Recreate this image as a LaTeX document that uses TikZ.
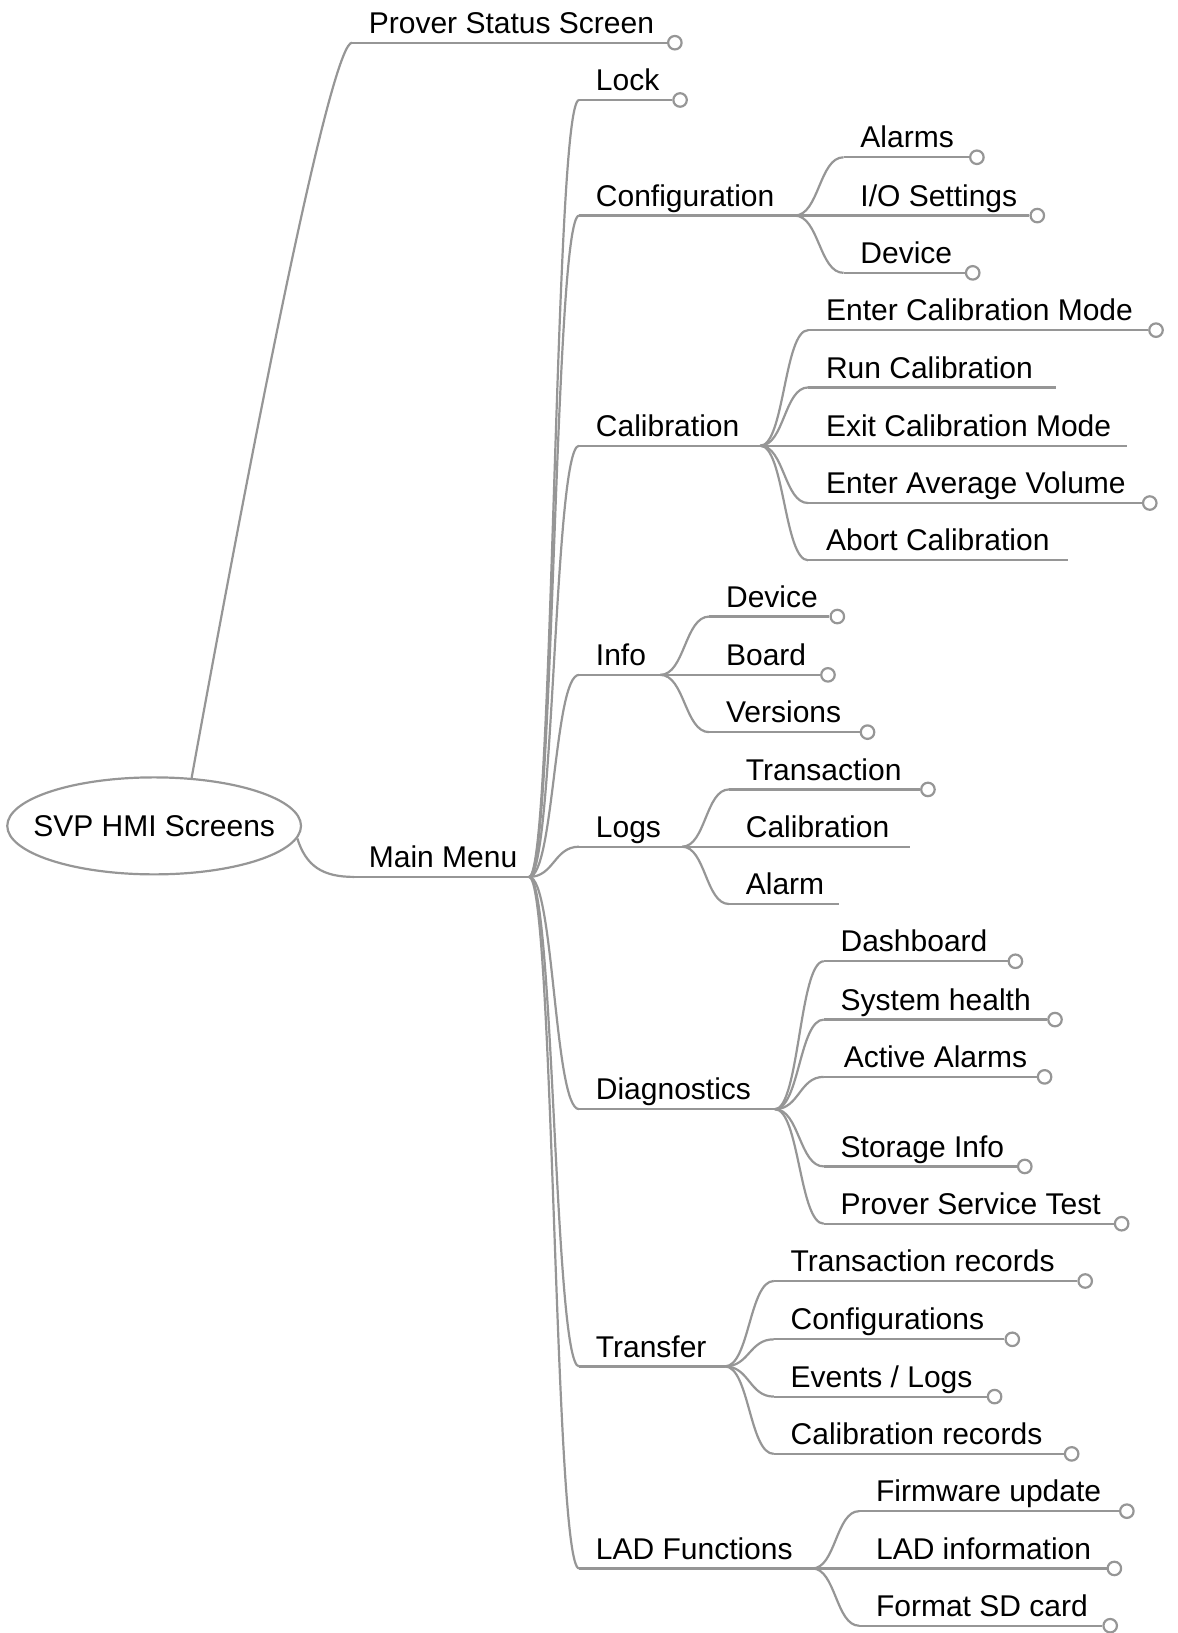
\documentclass[tikz,border=0pt]{standalone}
\usepackage{fontspec}
\setmainfont{Liberation Sans}
\usetikzlibrary{shapes.geometric,calc}
\definecolor{lc}{RGB}{150,150,150}
% #1 name, #2 parent coordinate, #3 start x, #4 y, #5 text x, #6 label
\newcommand\mmitem[6]{%
  \coordinate (#1-s) at (#3,#4);
  \node[lbl] (#1) at (#5,#4-9) {#6};
  \draw[ln] let \p1=(#2), \p2=(#1-s) in (#2) .. controls ({0.5*\x1+0.5*\x2},\y1) and ({0.5*\x1+0.5*\x2},\y2) .. (#1-s);
}
% plain end of underline: #1 name, #2 x, #3 y
\newcommand\mmend[3]{%
  \coordinate (#1-e) at (#2,#3);
  \draw[ln] (#1-s) -- (#1-e);
}
% underline ending in a circle: #1 name, #2 circle centre x, #3 y
\newcommand\mmdot[3]{%
  \node[dot] (#1-c) at (#2,#3) {};
  \draw[ln] (#1-s) -- (#1-c.west);
}
\begin{document}
\begin{tikzpicture}[x=1.0416pt,y=-1.0416pt,
  ln/.style={draw=lc,line width=2.2pt},
  lbl/.style={anchor=base west,inner sep=0pt,font=\fontsize{30}{34}\selectfont},
  dot/.style={circle,draw=lc,line width=2.2pt,fill=white,inner sep=0pt,minimum size=13.5pt},
  rootnode/.style={ellipse,draw=lc,line width=2.2pt,inner xsep=-17pt,inner ysep=0pt,minimum height=97pt,font=\fontsize{30}{34}\selectfont}]
\useasboundingbox (0,0) rectangle (1131,1568);

% root
\node[rootnode] (root) at (148,793) {SVP HMI Screens};

% Prover Status Screen
\coordinate (ps-s) at (338,41);
\node[lbl] (ps) at (354,32) {Prover Status Screen};
\draw[ln] (root.52) .. controls (257,345) and (320,41) .. (ps-s);
\mmdot{ps}{648}{41}

% Main Menu
\coordinate (mm-s) at (340,842);
\coordinate (mm-e) at (508,842);
\node[lbl] (mm) at (354,833) {Main Menu};
\draw[ln] (root.-5) .. controls (294,832) and (310,842) .. (mm-s);
\draw[ln] (mm-s) -- (mm-e);

% level 1
\mmitem{lock}{mm-e}{556}{96}{572}{Lock}
\mmdot{lock}{653}{96}
\mmitem{conf}{mm-e}{556}{207}{572}{Configuration}
\mmend{conf}{763}{207}
\mmitem{cal}{mm-e}{556}{428}{572}{Calibration}
\mmend{cal}{730}{428}
\mmitem{info}{mm-e}{556}{648}{572}{Info}
\mmend{info}{634}{648}
\mmitem{logs}{mm-e}{556}{813}{572}{Logs}
\mmend{logs}{655}{813}
\mmitem{diag}{mm-e}{556}{1065}{572}{Diagnostics}
\mmend{diag}{744}{1065}
\mmitem{trans}{mm-e}{556}{1312}{572}{Transfer}
\mmend{trans}{696}{1312}
\mmitem{lad}{mm-e}{556}{1506}{572}{LAD Functions}
\mmend{lad}{780}{1506}

% Configuration
\mmitem{alarms}{conf-e}{810}{151}{826}{Alarms}
\mmdot{alarms}{938}{151}
\mmitem{io}{conf-e}{810}{207}{826}{I/O Settings}
\mmdot{io}{996}{207}
\mmitem{cdev}{conf-e}{810}{262}{826}{Device}
\mmdot{cdev}{934}{262}

% Calibration
\mmitem{ecm}{cal-e}{776}{317}{793}{Enter Calibration Mode}
\mmdot{ecm}{1110}{317}
\mmitem{runc}{cal-e}{776}{372}{793}{Run Calibration}
\mmend{runc}{1014}{372}
\mmitem{xcm}{cal-e}{776}{428}{793}{Exit Calibration Mode}
\mmend{xcm}{1082}{428}
\mmitem{eav}{cal-e}{776}{483}{793}{Enter Average Volume}
\mmdot{eav}{1104}{483}
\mmitem{abc}{cal-e}{776}{538}{793}{Abort Calibration}
\mmend{abc}{1025}{538}

% Info
\mmitem{idev}{info-e}{681}{592}{697}{Device}
\mmdot{idev}{804}{592}
\mmitem{board}{info-e}{681}{648}{697}{Board}
\mmdot{board}{795}{648}
\mmitem{vers}{info-e}{681}{703}{697}{Versions}
\mmdot{vers}{833}{703}

% Logs
\mmitem{ltr}{logs-e}{700}{758}{716}{Transaction}
\mmdot{ltr}{891}{758}
\mmitem{lcal}{logs-e}{700}{813}{716}{Calibration}
\mmend{lcal}{874}{813}
\mmitem{lal}{logs-e}{700}{868}{716}{Alarm}
\mmend{lal}{806}{868}

% Diagnostics
\mmitem{dash}{diag-e}{791}{923}{807}{Dashboard}
\mmdot{dash}{975}{923}
\mmitem{sysh}{diag-e}{791}{979}{807}{System health}
\mmdot{sysh}{1013}{979}
\mmitem{actal}{diag-e}{791}{1034}{810}{Active Alarms}
\mmdot{actal}{1003}{1034}
\mmitem{stor}{diag-e}{791}{1120}{807}{Storage Info}
\mmdot{stor}{984}{1120}
\mmitem{pst}{diag-e}{791}{1175}{807}{Prover Service Test}
\mmdot{pst}{1077}{1175}

% Transfer
\mmitem{trec}{trans-e}{743}{1230}{759}{Transaction records}
\mmdot{trec}{1042}{1230}
\mmitem{tcfg}{trans-e}{743}{1286}{759}{Configurations}
\mmdot{tcfg}{972}{1286}
\mmitem{tev}{trans-e}{743}{1341}{759}{Events / Logs}
\mmdot{tev}{955}{1341}
\mmitem{tcal}{trans-e}{743}{1396}{759}{Calibration records}
\mmdot{tcal}{1029}{1396}

% LAD Functions
\mmitem{fw}{lad-e}{825}{1451}{841}{Firmware update}
\mmdot{fw}{1082}{1451}
\mmitem{ladi}{lad-e}{825}{1506}{841}{LAD information}
\mmdot{ladi}{1070}{1506}
\mmitem{fsd}{lad-e}{825}{1561}{841}{Format SD card}
\mmdot{fsd}{1066}{1561}
\end{tikzpicture}
\end{document}
